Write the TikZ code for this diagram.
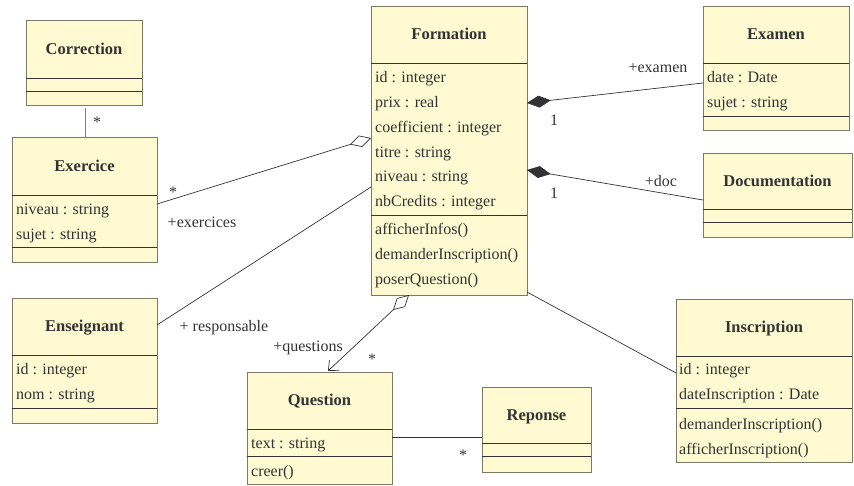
\documentclass[tikz,border=0pt]{standalone}
\usepackage{fontspec}
\setmainfont{Liberation Serif}
\usetikzlibrary{arrows.meta}
\definecolor{boxfill}{HTML}{FFFAD2}
\definecolor{boxline}{HTML}{7A7A66}
\definecolor{ink}{HTML}{333333}
\tikzset{
  classbox/.style={draw=boxline, fill=boxfill, line width=0.9pt, anchor=north west, inner sep=0pt, outer sep=0pt},
  ctitle/.style={font=\fontsize{16.5}{18}\selectfont\bfseries, text=ink, inner sep=0pt, anchor=base},
  attr/.style={font=\fontsize{16}{18}\selectfont, text=ink, anchor=base west, inner sep=0pt},
  divider/.style={draw=ink, line width=0.9pt},
  conn/.style={draw=ink, line width=0.7pt},
  lbl/.style={font=\fontsize{16}{18}\selectfont, text=ink, inner sep=0pt, anchor=base},
  opendiamond/.style={{Diamond[open, length=22pt, width=12pt, line width=0.7pt]}-},
  diamondbarb/.style={{Diamond[open, length=22pt, width=12pt, line width=0.7pt]}-{Straight Barb[length=8pt, width=14pt, line width=0.7pt]}},
  filldiamond/.style={{Diamond[length=24pt, width=12pt]}-},
}
\begin{document}
\begin{tikzpicture}[x=1pt,y=-1pt]
\useasboundingbox (0,0) rectangle (854,485);

% Correction
\node[classbox, minimum width=116pt, minimum height=85pt] (correction) at (26,20) {};
\draw[divider] (26,78) -- (142,78);
\draw[divider] (26,91) -- (142,91);
\node[ctitle] (correction-t) at (84,54) {Correction};

% Exercice
\node[classbox, minimum width=145pt, minimum height=125pt] (exercice) at (12,137) {};
\draw[divider] (12,195) -- (157,195);
\draw[divider] (12,247) -- (157,247);
\node[ctitle] (exercice-t) at (84.5,171) {Exercice};
\node[attr] (exercice-a1) at (16,214) {niveau : string};
\node[attr] (exercice-a2) at (16,239) {sujet : string};

% Formation
\node[classbox, minimum width=156pt, minimum height=289pt] (formation) at (371,6) {};
\draw[divider] (371,63) -- (527,63);
\draw[divider] (371,215) -- (527,215);
\node[ctitle] (formation-t) at (449,39.5) {Formation};
\node[attr] (formation-a1) at (375,82) {id : integer};
\node[attr] (formation-a2) at (375,107) {prix : real};
\node[attr] (formation-a3) at (375,132) {coefficient : integer};
\node[attr] (formation-a4) at (375,157) {titre : string};
\node[attr] (formation-a5) at (375,181) {niveau : string};
\node[attr] (formation-a6) at (375,206) {nbCredits : integer};
\node[attr] (formation-m1) at (375,234) {afficherInfos()};
\node[attr] (formation-m2) at (375,259) {demanderInscription()};
\node[attr] (formation-m3) at (375,284) {poserQuestion()};

% Examen
\node[classbox, minimum width=146pt, minimum height=124pt] (examen) at (703,6) {};
\draw[divider] (703,63) -- (849,63);
\draw[divider] (703,116) -- (849,116);
\node[ctitle] (examen-t) at (776,39.5) {Examen};
\node[attr] (examen-a1) at (707,82) {date : Date};
\node[attr] (examen-a2) at (707,107) {sujet : string};

% Documentation
\node[classbox, minimum width=149pt, minimum height=84pt] (documentation) at (703,153) {};
\draw[divider] (703,209) -- (852,209);
\draw[divider] (703,222) -- (852,222);
\node[ctitle] (documentation-t) at (777.5,186) {Documentation};

% Enseignant
\node[classbox, minimum width=145pt, minimum height=125pt] (enseignant) at (12,298) {};
\draw[divider] (12,355) -- (157,355);
\draw[divider] (12,408) -- (157,408);
\node[ctitle] (enseignant-t) at (84.5,331.5) {Enseignant};
\node[attr] (enseignant-a1) at (16,374) {id : integer};
\node[attr] (enseignant-a2) at (16,399) {nom : string};

% Question
\node[classbox, minimum width=145pt, minimum height=112pt] (question) at (247,372) {};
\draw[divider] (247,429) -- (392,429);
\draw[divider] (247,456) -- (392,456);
\node[ctitle] (question-t) at (319.5,405.5) {Question};
\node[attr] (question-a1) at (251,448) {text : string};
\node[attr] (question-m1) at (251,476) {creer()};

% Reponse
\node[classbox, minimum width=109pt, minimum height=85pt] (reponse) at (482,387) {};
\draw[divider] (482,443) -- (591,443);
\draw[divider] (482,456) -- (591,456);
\node[ctitle] (reponse-t) at (536.5,420) {Reponse};

% Inscription
\node[classbox, minimum width=176pt, minimum height=163pt] (inscription) at (676,299) {};
\draw[divider] (676,356) -- (852,356);
\draw[divider] (676,408) -- (852,408);
\node[ctitle] (inscription-t) at (764,332.5) {Inscription};
\node[attr] (inscription-a1) at (679,374) {id : integer};
\node[attr] (inscription-a2) at (679,399) {dateInscription : Date};
\node[attr] (inscription-m1) at (679,429) {demanderInscription()};
\node[attr] (inscription-m2) at (679,454) {afficherInscription()};

% Connectors
\draw[draw=gray, line width=0.8pt] ([xshift=59pt, yshift=-3pt]correction.south west) -- ([xshift=73pt]exercice.north west);
\node[lbl] (l-corr) at (97,127) {*};

\draw[conn, opendiamond] ([yshift=-132pt]formation.north west) -- ([yshift=-67pt]exercice.north east);
\node[lbl] (l-ex1) at (173,197) {*};
\node[lbl] (l-ex2) at (202,227) {+exercices};

\draw[conn] ([yshift=-181pt]formation.north west) -- ([yshift=-27pt]enseignant.north east);
\node[lbl] (l-ens) at (224,331) {+ responsable};

\draw[conn, diamondbarb] ([xshift=38pt]formation.south west) -- ([xshift=81pt, yshift=1pt]question.north west);
\node[lbl] (l-q1) at (308,351) {+questions};
\node[lbl] (l-q2) at (372,364) {*};

\draw[conn, filldiamond] ([yshift=-97pt]formation.north east) -- ([yshift=-77pt]examen.north west);
\node[lbl] (l-exa1) at (554,125) {1};
\node[lbl] (l-exa2) at (658,72) {+examen};

\draw[conn, filldiamond] ([yshift=-164pt]formation.north east) -- ([yshift=-47pt]documentation.north west);
\node[lbl] (l-doc1) at (554,198) {1};
\node[lbl] (l-doc2) at (661,186) {+doc};

\draw[conn] ([yshift=3pt]formation.south east) -- ([yshift=-74pt]inscription.north west);

\draw[conn] ([yshift=-65pt]question.north east) -- ([yshift=-50pt]reponse.north west);
\node[lbl] (l-rep) at (463,460) {*};
\end{tikzpicture}
\end{document}
